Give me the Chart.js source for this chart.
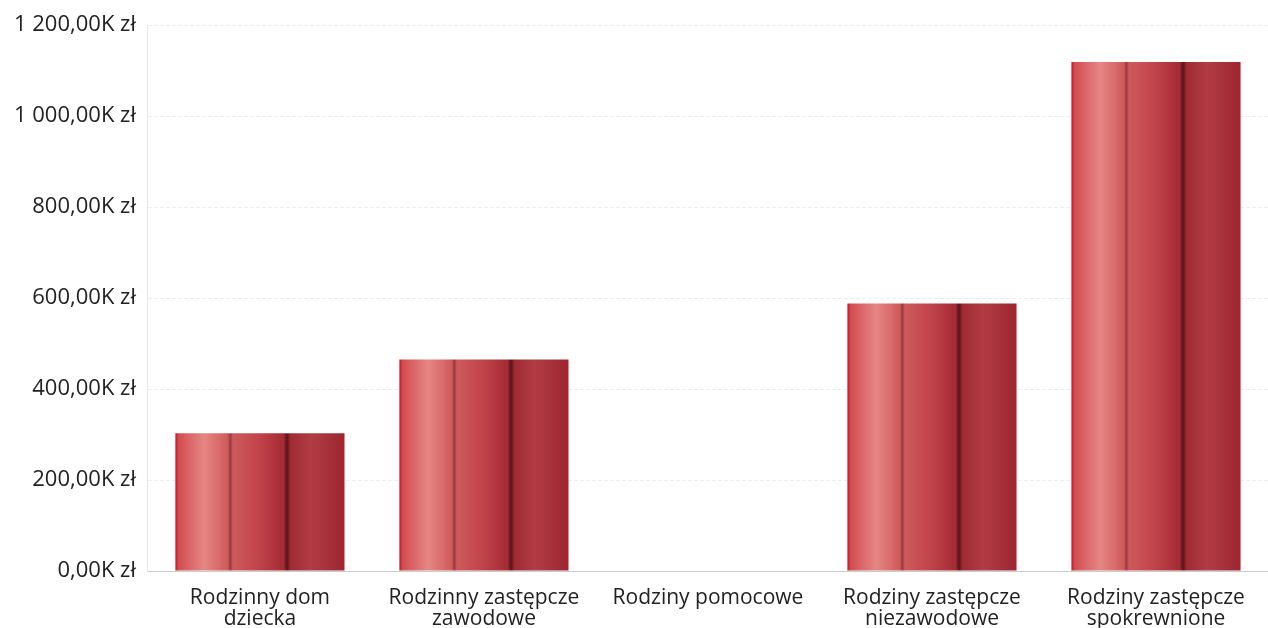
<!DOCTYPE html>
<html>
<head>
<meta charset="utf-8">
<script src="https://cdn.jsdelivr.net/npm/chart.js@4/dist/chart.umd.min.js"></script>
<style>
  html, body { margin: 0; padding: 0; background: #fff; overflow: hidden; }
  #wrap { width: 1268px; height: 639px; }
</style>
</head>
<body>
<div id="wrap"><canvas id="barChart"></canvas></div>
<script>
// values in thousands of zł
const categories = [
    ["Rodzinny dom", "dziecka"],
    ["Rodzinny zastępcze", "zawodowe"],
    "Rodziny pomocowe",
    ["Rodziny zastępcze", "niezawodowe"],
    ["Rodziny zastępcze", "spokrewnione"]
];
const amounts = [303, 465, 0, 588, 1119];
const yTicks = [0, 200, 400, 600, 800, 1000, 1200];

function formatK(v) {
    const parts = v.toFixed(2).split(".");
    const whole = parts[0].replace(/\B(?=(\d{3})+(?!\d))/g, " ");
    return whole + "," + parts[1] + "K zł";
}

function barFill(context) {
    const chart = context.chart;
    if (!chart.chartArea) return "#c03a3a";
    const xScale = chart.scales.x;
    const center = xScale.getPixelForValue(context.dataIndex);
    const w = xScale.width / categories.length * 0.755;
    const left = center - w / 2;
    const g = chart.ctx.createLinearGradient(left, 0, left + w, 0);
    g.addColorStop(0.00, "#c8141e");
    g.addColorStop(0.02, "#d24e52");
    g.addColorStop(0.17, "#e58784");
    g.addColorStop(0.31, "#cf5a5a");
    g.addColorStop(0.325, "#9a3a40");
    g.addColorStop(0.34, "#cd5a5a");
    g.addColorStop(0.50, "#c0434a");
    g.addColorStop(0.64, "#a42a34");
    g.addColorStop(0.66, "#5a121a");
    g.addColorStop(0.68, "#a02a32");
    g.addColorStop(0.80, "#b13c44");
    g.addColorStop(0.97, "#a02a34");
    g.addColorStop(1.00, "#a8202a");
    return g;
}

const ctx = document.getElementById("barChart").getContext("2d");
new Chart(ctx, {
    type: "bar",
    data: {
        labels: categories,
        datasets: [{
            label: "Kwota",
            data: amounts,
            backgroundColor: barFill,
            borderWidth: 0,
            barPercentage: 0.755,
            categoryPercentage: 1
        }]
    },
    options: {
        responsive: true,
        maintainAspectRatio: false,
        animation: false,
        layout: { padding: { left: 2, top: 10, right: 0, bottom: 0 } },
        plugins: {
            legend: { display: false },
            tooltip: { enabled: false }
        },
        scales: {
            x: {
                grid: { display: false },
                border: { color: "#c5cad3", width: 1 },
                ticks: {
                    color: "#222",
                    font: { family: "Open Sans", size: 21, lineHeight: 1.0 },
                    maxRotation: 0,
                    autoSkip: false,
                    padding: 9
                }
            },
            y: {
                min: 0,
                max: 1200,
                afterBuildTicks: axis => { axis.ticks = yTicks.map(v => ({ value: v })); },
                grid: { color: "#eeeeee", drawTicks: false },
                border: { color: "#e6e6e6", dash: [4, 2] },
                ticks: {
                    color: "#222",
                    font: { family: "Open Sans", size: 22 },
                    padding: 12,
                    callback: v => formatK(v)
                }
            }
        }
    }
});
</script>
</body>
</html>
